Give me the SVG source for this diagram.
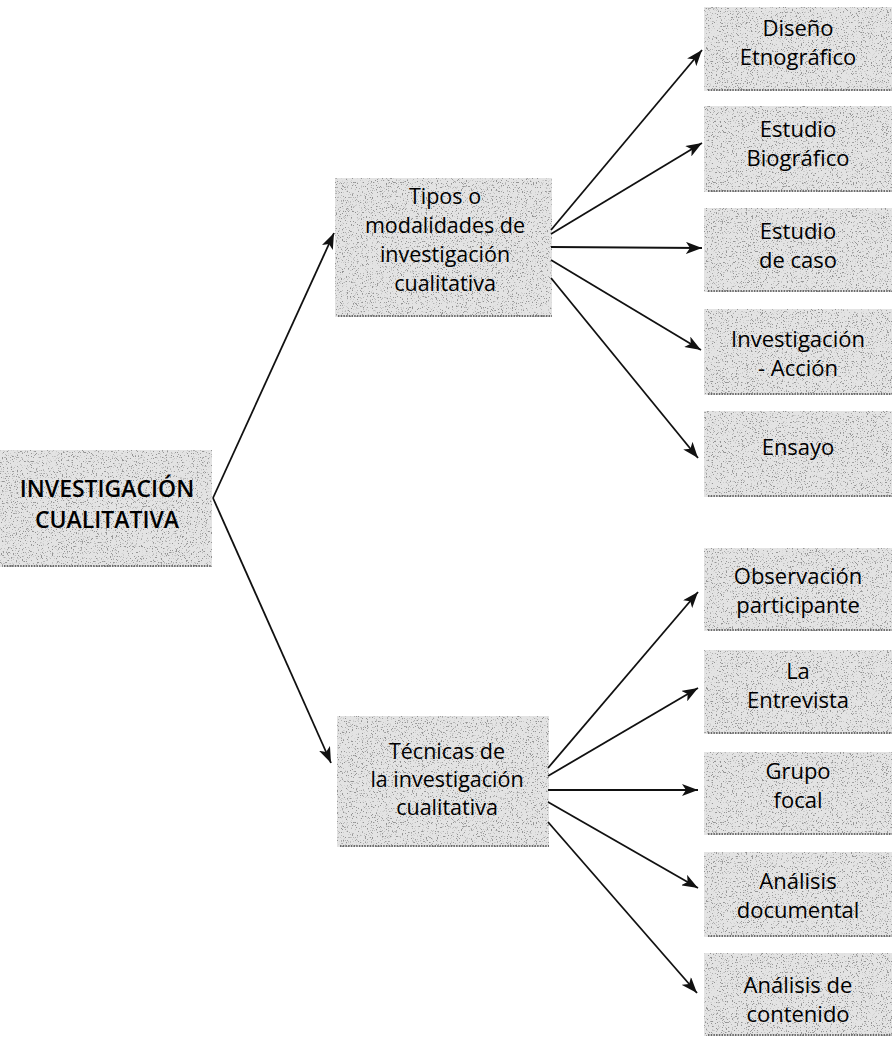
<svg xmlns="http://www.w3.org/2000/svg" width="894" height="1038" viewBox="0 0 894 1038">
<style>
.box{fill:#e3e3e3;filter:url(#grain)}
.edge{stroke:#6a6a6a;stroke-width:2;stroke-dasharray:1.5 1.2;fill:none}
.t{font-family:"Open Sans","Noto Sans",sans-serif;fill:#000;text-anchor:middle}
.m{font-size:21.5px}
.r{font-size:22px}
.root{font-size:23px;font-weight:600}
.c{stroke:#111;stroke-width:1.8;fill:none;marker-end:url(#ah)}
</style>
<defs>
<filter id="grain" x="0" y="0" width="1" height="1">
<feTurbulence type="fractalNoise" baseFrequency="0.8" numOctaves="2" seed="7" result="t"/>
<feColorMatrix in="t" type="matrix" values="0 0 0 0 0.3  0 0 0 0 0.3  0 0 0 0 0.3  9 0 0 0 -5.3" result="d"/>
<feComposite in="d" in2="SourceAlpha" operator="in" result="dd"/>
<feMerge><feMergeNode in="SourceGraphic"/><feMergeNode in="dd"/></feMerge>
</filter>
<marker id="ah" markerUnits="userSpaceOnUse" markerWidth="17" markerHeight="12" refX="16" refY="6" orient="auto">
<path d="M0,0 L16,6 L0,12 L4,6 z" fill="#111"/>
</marker>
</defs>

<g id="root">
<rect class="box" x="0" y="450" width="212" height="117"/>
<line class="edge" x1="4" y1="566" x2="212" y2="566"/>
<text class="t root" x="107" y="497">INVESTIGACIÓN</text>
<text class="t root" x="107" y="528">CUALITATIVA</text>
</g>

<g id="tipos">
<rect class="box" x="335" y="178" width="217" height="139"/>
<line class="edge" x1="338" y1="316" x2="552" y2="316"/>
<text class="t m" x="445" y="204">Tipos o</text>
<text class="t m" x="445" y="233">modalidades de</text>
<text class="t m" x="445" y="262">investigación</text>
<text class="t m" x="445" y="291">cualitativa</text>
</g>

<g id="tecnicas">
<rect class="box" x="337" y="716" width="212" height="131"/>
<line class="edge" x1="340" y1="846" x2="549" y2="846"/>
<text class="t m" x="447" y="759">Técnicas de</text>
<text class="t m" x="447" y="787">la investigación</text>
<text class="t m" x="447" y="815">cualitativa</text>
</g>

<g id="n1">
<rect class="box" x="704" y="7" width="188" height="84"/>
<line class="edge" x1="708" y1="90" x2="892" y2="90"/>
<text class="t r" x="798" y="36">Diseño</text>
<text class="t r" x="798" y="65">Etnográfico</text>
</g>
<g id="n2">
<rect class="box" x="704" y="106" width="188" height="86"/>
<line class="edge" x1="708" y1="191" x2="892" y2="191"/>
<text class="t r" x="798" y="137">Estudio</text>
<text class="t r" x="798" y="166">Biográfico</text>
</g>
<g id="n3">
<rect class="box" x="704" y="208" width="188" height="84"/>
<line class="edge" x1="708" y1="291" x2="892" y2="291"/>
<text class="t r" x="798" y="239">Estudio</text>
<text class="t r" x="798" y="268">de caso</text>
</g>
<g id="n4">
<rect class="box" x="704" y="309" width="188" height="86"/>
<line class="edge" x1="708" y1="394" x2="892" y2="394"/>
<text class="t r" x="798" y="347">Investigación</text>
<text class="t r" x="798" y="376">- Acción</text>
</g>
<g id="n5">
<rect class="box" x="704" y="411" width="188" height="86"/>
<line class="edge" x1="708" y1="496" x2="892" y2="496"/>
<text class="t r" x="798" y="455">Ensayo</text>
</g>
<g id="n6">
<rect class="box" x="704" y="548" width="188" height="83"/>
<line class="edge" x1="708" y1="630" x2="892" y2="630"/>
<text class="t r" x="798" y="584">Observación</text>
<text class="t r" x="798" y="613">participante</text>
</g>
<g id="n7">
<rect class="box" x="704" y="650" width="188" height="84"/>
<line class="edge" x1="708" y1="733" x2="892" y2="733"/>
<text class="t r" x="798" y="679">La</text>
<text class="t r" x="798" y="708">Entrevista</text>
</g>
<g id="n8">
<rect class="box" x="704" y="752" width="188" height="83"/>
<line class="edge" x1="708" y1="834" x2="892" y2="834"/>
<text class="t r" x="798" y="779">Grupo</text>
<text class="t r" x="798" y="808">focal</text>
</g>
<g id="n9">
<rect class="box" x="704" y="852" width="188" height="85"/>
<line class="edge" x1="708" y1="936" x2="892" y2="936"/>
<text class="t r" x="798" y="889">Análisis</text>
<text class="t r" x="798" y="918">documental</text>
</g>
<g id="n10">
<rect class="box" x="704" y="953" width="188" height="83"/>
<line class="edge" x1="708" y1="1035" x2="892" y2="1035"/>
<text class="t r" x="798" y="993">Análisis de</text>
<text class="t r" x="798" y="1022">contenido</text>
</g>

<g id="connectors">
<line class="c" x1="213" y1="498" x2="334" y2="233"/>
<line class="c" x1="213" y1="498" x2="331" y2="763"/>
<line class="c" x1="551" y1="230" x2="702" y2="50"/>
<line class="c" x1="551" y1="234" x2="702" y2="143"/>
<line class="c" x1="551" y1="247" x2="702" y2="248"/>
<line class="c" x1="551" y1="260" x2="701" y2="350"/>
<line class="c" x1="551" y1="278" x2="698" y2="458"/>
<line class="c" x1="548" y1="768" x2="698" y2="592"/>
<line class="c" x1="548" y1="776" x2="698" y2="688"/>
<line class="c" x1="548" y1="790" x2="698" y2="790"/>
<line class="c" x1="548" y1="802" x2="698" y2="888"/>
<line class="c" x1="548" y1="822" x2="697" y2="993"/>
</g>
</svg>
